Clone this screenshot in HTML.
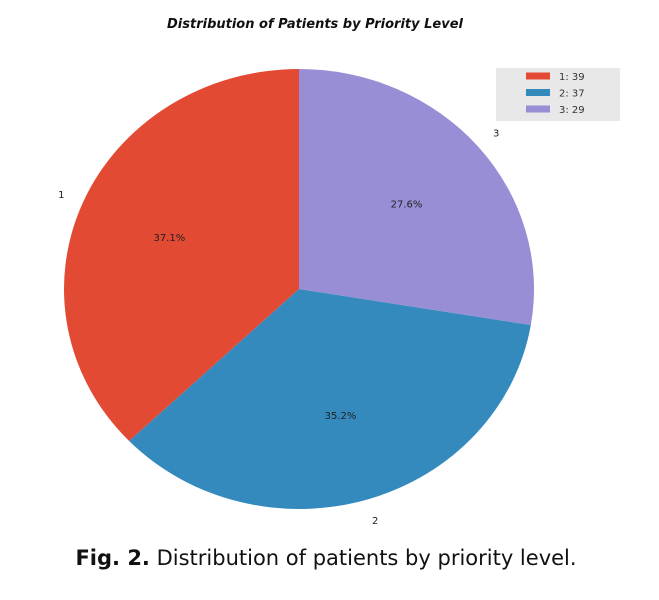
<!DOCTYPE html>
<html><head><meta charset="utf-8"><style>
body{margin:0;background:#fff;width:659px;height:596px;overflow:hidden;font-family:"DejaVu Sans","Liberation Sans",sans-serif}
</style></head><body>
<svg id="c" width="659" height="596">
<text x="315" y="28" text-anchor="middle" font-size="13" font-weight="bold" font-style="italic" fill="#111">Distribution of Patients by Priority Level</text>
<g id="slices"></g>
<g>
<rect x="496" y="68" width="124" height="53" fill="#e8e8e8"/>
<g id="leg"></g>
</g>
<text x="326" y="565" text-anchor="middle" font-size="21" fill="#111"><tspan font-weight="bold">Fig. 2.</tspan> Distribution of patients by priority level.</text>
</svg>
<script>
const categories=["1","2","3"];
const counts=[39,37,29];
const colors=["#e24a33","#348abd","#988ed5"];
const cx=299,cy=289,rx=235,ry=220,ns="http://www.w3.org/2000/svg";
const total=counts.reduce((a,b)=>a+b,0);
const g=document.getElementById('slices'),lg=document.getElementById('leg');
let a0=90;
function pt(a,k){const t=a*Math.PI/180;return [cx+k*rx*Math.cos(t),cy-k*ry*Math.sin(t)];}
counts.forEach((v,i)=>{
 const sw=v/total*360,a1=a0+sw;
 const p0=pt(a0,1),p1=pt(a1,1);
 const p=document.createElementNS(ns,'path');
 p.setAttribute('d',`M${cx},${cy}L${p0[0]},${p0[1]}A${rx},${ry} 0 ${sw>180?1:0} 0 ${p1[0]},${p1[1]}Z`);
 p.setAttribute('fill',colors[i]);
 
 
 g.appendChild(p);
 const m=a0+sw/2;
 const q=pt(m,0.6);
 const t=document.createElementNS(ns,'text');
 t.setAttribute('x',q[0]);t.setAttribute('y',q[1]+4);t.setAttribute('text-anchor','middle');t.setAttribute('font-size','10');t.setAttribute('fill','#222');
 t.textContent=(v/total*100).toFixed(1)+'%';
 
 
 g.appendChild(t);
 const o=pt(m,1.1);
 const l=document.createElementNS(ns,'text');
 l.setAttribute('x',o[0]);l.setAttribute('y',o[1]+4);l.setAttribute('text-anchor','middle');l.setAttribute('font-size','10');l.setAttribute('fill','#222');
 l.textContent=categories[i];
 
 
 g.appendChild(l);
 const y=76+i*16.5;
 const rc=document.createElementNS(ns,'rect');
 rc.setAttribute('x',526);rc.setAttribute('y',y-3.5);rc.setAttribute('width',24);rc.setAttribute('height',7);rc.setAttribute('fill',colors[i]);
 
 
 lg.appendChild(rc);
 const lt=document.createElementNS(ns,'text');
 lt.setAttribute('x',559);lt.setAttribute('y',y+4);lt.setAttribute('font-size','10');lt.setAttribute('fill','#333');
 lt.textContent=categories[i]+': '+v;
 
 
 lg.appendChild(lt);
 a0=a1;
});
</script>
</body></html>
